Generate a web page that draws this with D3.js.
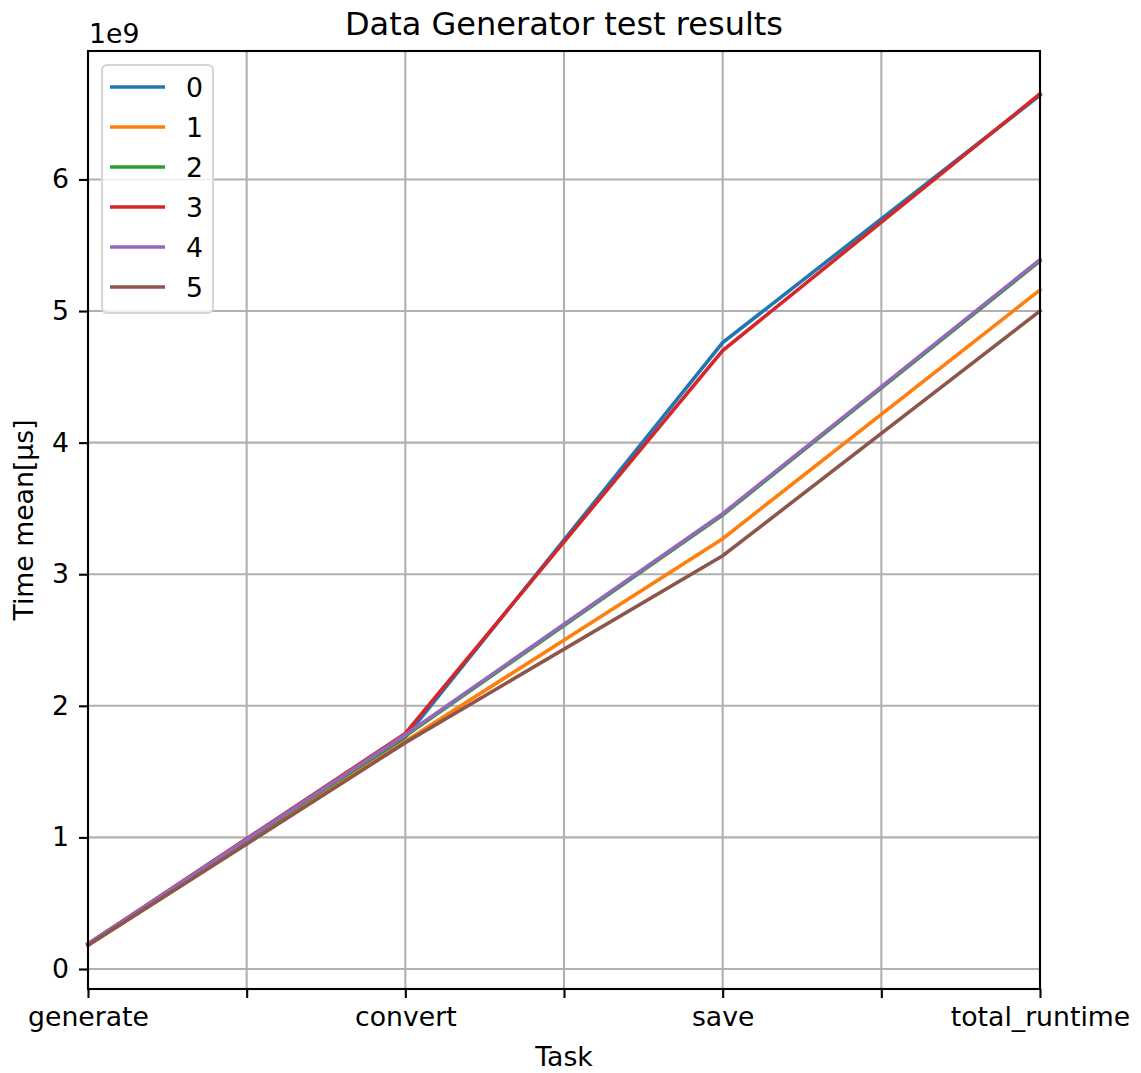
<!DOCTYPE html>
<html>
<head>
<meta charset="utf-8">
<script src="https://cdn.jsdelivr.net/npm/d3@7.9.0/dist/d3.min.js"></script>
<style>
  body { margin: 0; background: #fff; }
  svg { font-family: "DejaVu Sans", sans-serif; }
</style>
</head>
<body>
<svg id="chart" width="1141" height="1073"></svg>
<script>
const tasks = ['generate', 'convert', 'save', 'total_runtime'];
const seriesNames = ['0', '1', '2', '3', '4', '5'];
// mean time in µs, one array per series
const series0 = [0.19e9, 1.76e9, 4.76e9, 6.64e9];
const series1 = [0.18e9, 1.73e9, 3.27e9, 5.16e9];
const series2 = [0.19e9, 1.77e9, 3.45e9, 5.38e9];
const series3 = [0.19e9, 1.79e9, 4.70e9, 6.65e9];
const series4 = [0.19e9, 1.78e9, 3.46e9, 5.39e9];
const series5 = [0.18e9, 1.72e9, 3.14e9, 5.00e9];
const yTicks = [0, 1e9, 2e9, 3e9, 4e9, 5e9, 6e9];

const allSeries = [series0, series1, series2, series3, series4, series5];
const colors = ['#1f77b4', '#ff7f0e', '#2ca02c', '#d62728', '#9467bd', '#8c564b'];

const svg = d3.select('#chart');
const plotL = 88, plotR = 1040, plotT = 51, plotB = 989;
const fs = 26.7;

let x = d3.scaleLinear().domain([0, tasks.length - 1]).range([plotL, plotR]);
let y = d3.scaleLinear().domain([-0.152e9, 6.976e9]).range([plotB, plotT]);

let xTicks = d3.range(0, tasks.length - 0.99, 0.5);

// grid
svg.append('g')
   .selectAll('line')
   .data(xTicks)
   .join('line')
   .attr('x1', (d) => x(d)).attr('x2', (d) => x(d))
   .attr('y1', plotT).attr('y2', plotB)
   .attr('stroke', '#b0b0b0').attr('stroke-width', 2.1);

svg.append('g')
   .selectAll('line')
   .data(yTicks)
   .join('line')
   .attr('x1', plotL).attr('x2', plotR)
   .attr('y1', (d) => y(d)).attr('y2', (d) => y(d))
   .attr('stroke', '#b0b0b0').attr('stroke-width', 2.1);

// lines
let line = d3.line()
  .x((d, i) => x(i))
  .y((d) => y(d));

allSeries.forEach((s, i) => {
  svg.append('path')
     .datum(s)
     .attr('d', line)
     .attr('fill', 'none')
     .attr('stroke', colors[i])
     .attr('stroke-width', 3.6)
     .attr('stroke-linecap', 'square');
});

// axes
let xAxis = d3.axisBottom(x)
  .tickValues(xTicks)
  .tickSize(9)
  .tickPadding(9)
  .tickFormat((d) => (Number.isInteger(d) ? tasks[d] : ''));

let gx = svg.append('g')
  .attr('transform', `translate(0,${plotB})`)
  .call(xAxis);

let yAxis = d3.axisLeft(y)
  .tickValues(yTicks)
  .tickSize(9)
  .tickPadding(10)
  .tickFormat((d) => d / 1e9);

let gy = svg.append('g')
  .attr('transform', `translate(${plotL},0)`)
  .call(yAxis);

[gx, gy].forEach((g) => {
  g.select('.domain').remove();
  g.selectAll('line').attr('stroke', '#000').attr('stroke-width', 2.1);
  g.selectAll('text').attr('font-size', fs).attr('fill', '#000')
   .attr('font-family', '"DejaVu Sans", sans-serif');
});

// frame
svg.append('rect')
   .attr('x', plotL).attr('y', plotT)
   .attr('width', plotR - plotL).attr('height', plotB - plotT)
   .attr('fill', 'none').attr('stroke', '#000').attr('stroke-width', 2.1);

// texts
svg.append('text')
   .attr('x', (plotL + plotR) / 2).attr('y', 35)
   .attr('text-anchor', 'middle').attr('font-size', 32)
   .text('Data Generator test results');

svg.append('text')
   .attr('x', plotL + 1).attr('y', 43)
   .attr('font-size', fs)
   .text('1e9');

svg.append('text')
   .attr('x', (plotL + plotR) / 2).attr('y', 1066)
   .attr('text-anchor', 'middle').attr('font-size', fs)
   .text('Task');

svg.append('text')
   .attr('transform', `translate(33,${(plotT + plotB) / 2}) rotate(-90)`)
   .attr('text-anchor', 'middle').attr('font-size', fs)
   .text('Time mean[µs]');

// legend
let legend = svg.append('g').attr('transform', 'translate(102,65)');
legend.append('rect')
   .attr('width', 111).attr('height', 248)
   .attr('rx', 5)
   .attr('fill', 'rgba(255,255,255,0.8)')
   .attr('stroke', '#d6d6d6').attr('stroke-width', 2.1);

seriesNames.forEach((name, i) => {
  let ly = 22 + i * 40;
  legend.append('line')
     .attr('x1', 8).attr('x2', 63)
     .attr('y1', ly).attr('y2', ly)
     .attr('stroke', colors[i]).attr('stroke-width', 3.6);
  legend.append('text')
     .attr('x', 84).attr('y', ly + 10)
     .attr('font-size', fs)
     .text(name);
});
</script>
</body>
</html>
